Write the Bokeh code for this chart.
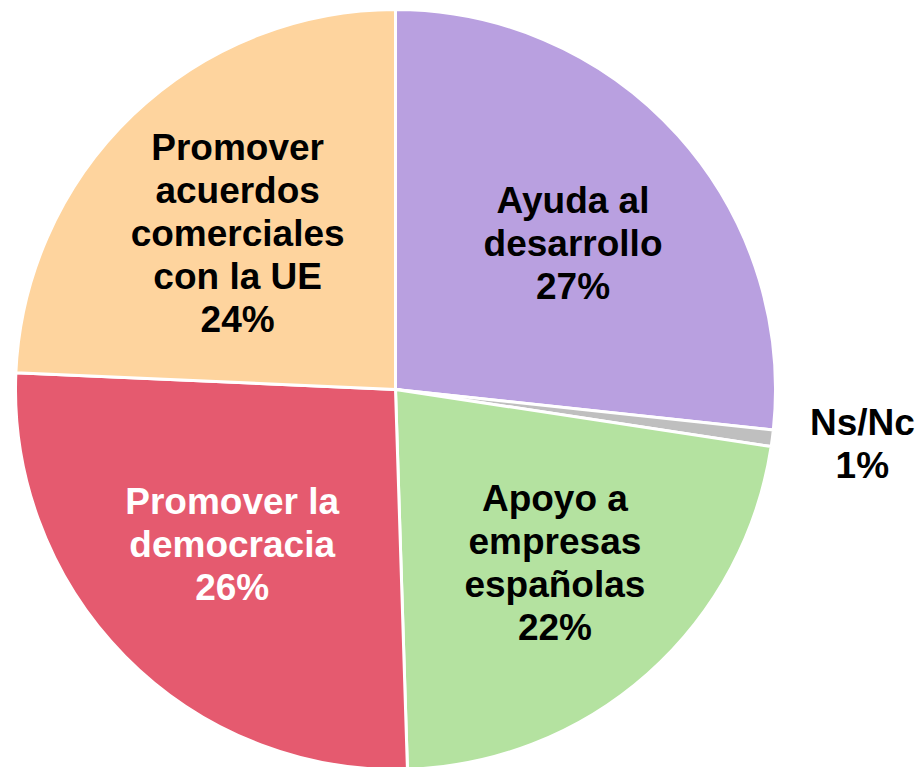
import math
from bokeh.plotting import figure
from bokeh.models import ColumnDataSource, Range1d
from bokeh.core.properties import value
from bokeh.embed import file_html
from bokeh.resources import INLINE

# Data (clockwise from 12 o'clock)
categories = ["Ayuda al\ndesarrollo", "Ns/Nc", "Apoyo a\nempresas\nespañolas",
              "Promover la\ndemocracia", "Promover\nacuerdos\ncomerciales\ncon la UE"]
values = [26.7, 0.7, 22.1, 26.2, 24.3]
pct_labels = ["27%", "1%", "22%", "26%", "24%"]

# Styles / label layout
colors = ["#B9A0E0", "#BFBFBF", "#B4E2A0", "#E55A6F", "#FED49E"]
text_colors = ["black", "black", "black", "white", "black"]
label_radius_frac = [0.605, 1.237, 0.62, 0.592, 0.584]
label_angle_shift_deg = [2.5, -0.7, -1.0, 1.2, -1.6]

W, H = 919, 767
cx, cy, R = 395, 378, 380

total = sum(values)
starts, ends, lx, ly, texts = [], [], [], [], []
cum = 0.0
for i, v in enumerate(values):
    a0 = cum / total * 2 * math.pi
    cum += v
    a1 = cum / total * 2 * math.pi
    starts.append(math.pi / 2 - a0)
    ends.append(math.pi / 2 - a1)
    mid = (a0 + a1) / 2 + math.radians(label_angle_shift_deg[i])
    d = label_radius_frac[i] * R
    lx.append(cx + d * math.sin(mid))
    ly.append(cy + d * math.cos(mid))
    texts.append(categories[i] + "\n" + pct_labels[i])

src = ColumnDataSource(dict(start=starts, end=ends, color=colors))
lsrc = ColumnDataSource(dict(x=lx, y=ly, text=texts, tc=text_colors))

p = figure(width=W, height=H, output_backend="svg", toolbar_location=None,
           x_range=Range1d(0, W), y_range=Range1d(0, H),
           x_axis_type=None, y_axis_type=None, min_border=0)
p.outline_line_color = None
p.grid.visible = False
p.background_fill_color = "white"

p.wedge(x=cx, y=cy, radius=R, start_angle="start", end_angle="end",
        direction="clock", fill_color="color", line_color="white",
        line_width=3, source=src)

p.text(x="x", y="y", text="text", source=lsrc, text_align="center",
       text_baseline="middle", text_color="tc",
       text_font=value("Liberation Sans"), text_font_style="bold",
       text_font_size="37px", text_line_height=1.05)

open("out.html", "w").write(file_html(p, INLINE))
